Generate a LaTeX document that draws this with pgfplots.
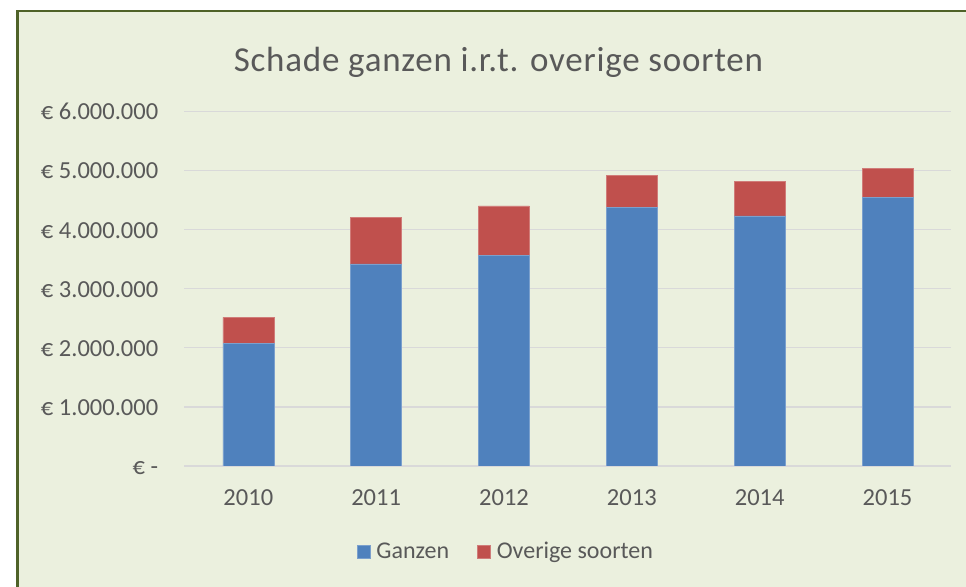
\documentclass[border=0pt]{standalone}
\usepackage{pgfplots}
\pgfplotsset{compat=1.18}
\usepackage{fontspec}
\setmainfont{Carlito}
\newfontfamily\titlefont{Carlito}[LetterSpace=2.2]
\definecolor{txt}{HTML}{595959}
\definecolor{bgc}{HTML}{EBF0DE}
\definecolor{bord}{HTML}{4F6228}
\definecolor{gridc}{HTML}{D9D9D9}
\definecolor{blu}{HTML}{4F81BD}
\definecolor{rd}{HTML}{C0504D}
\begin{document}
\begin{tikzpicture}[x=1bp,y=1bp]
\path[use as bounding box] (0,0) rectangle (966,587);
\fill[bgc] (17.7,0) rectangle (966,576);
\draw[bord, line width=2.5bp] (17.7,0) -- (17.7,576) -- (966,576);
\begin{axis}[
  at={(184.4bp,121bp)}, anchor=south west,
  scale only axis, width=767bp, height=354.6bp,
  ybar stacked, bar width=51bp,
  xmin=-0.5, xmax=5.5, ymin=0, ymax=6,
  axis line style={draw=none},
  major tick length=0pt,
  ymajorgrids, grid style={gridc, line width=1.3bp},
  xtick={0,1,2,3,4,5},
  xticklabels={2010,2011,2012,2013,2014,2015},
  ytick={0,1,2,3,4,5,6},
  yticklabels={€ -\hspace{2bp},€ 1.000.000,€ 2.000.000,€ 3.000.000,€ 4.000.000,€ 5.000.000,€ 6.000.000},
  xticklabel style={font=\fontsize{24.5bp}{28bp}\selectfont, text=txt, anchor=base, inner sep=0pt, yshift=-39.5bp},
  yticklabel style={font=\fontsize{24.5bp}{28bp}\selectfont, text=txt, anchor=base east, inner sep=0pt, xshift=-26bp, yshift=-8.5bp},
  title={Schade ganzen i.r.t. overige soorten},
  title style={at={(0.4095,1.097)}, anchor=base, font=\titlefont\fontsize{35bp}{40bp}\selectfont, text=txt, inner sep=0pt},
  legend columns=2,
  legend style={at={(0.2246,-0.2406)}, anchor=west, draw=none, fill=none, inner sep=0pt,
    font=\fontsize{24bp}{28bp}\selectfont, text=txt,
    nodes={inner sep=0pt},
    /tikz/every odd column/.append style={column sep=6bp},
    /tikz/every even column/.append style={column sep=28bp}},
  legend image code/.code={\fill[#1] (0bp,-6.5bp) rectangle (13bp,6.5bp);},
]
\addplot[fill=blu, draw=blu!75!white, line width=0.6bp] coordinates {(0,2.076) (1,3.42) (2,3.57) (3,4.38) (4,4.23) (5,4.55)};
\addlegendentry{Ganzen}
\addplot[fill=rd, draw=rd!75!white, line width=0.6bp] coordinates {(0,0.44) (1,0.79) (2,0.83) (3,0.54) (4,0.58) (5,0.48)};
\addlegendentry{Overige soorten}
\end{axis}
\end{tikzpicture}
\end{document}
